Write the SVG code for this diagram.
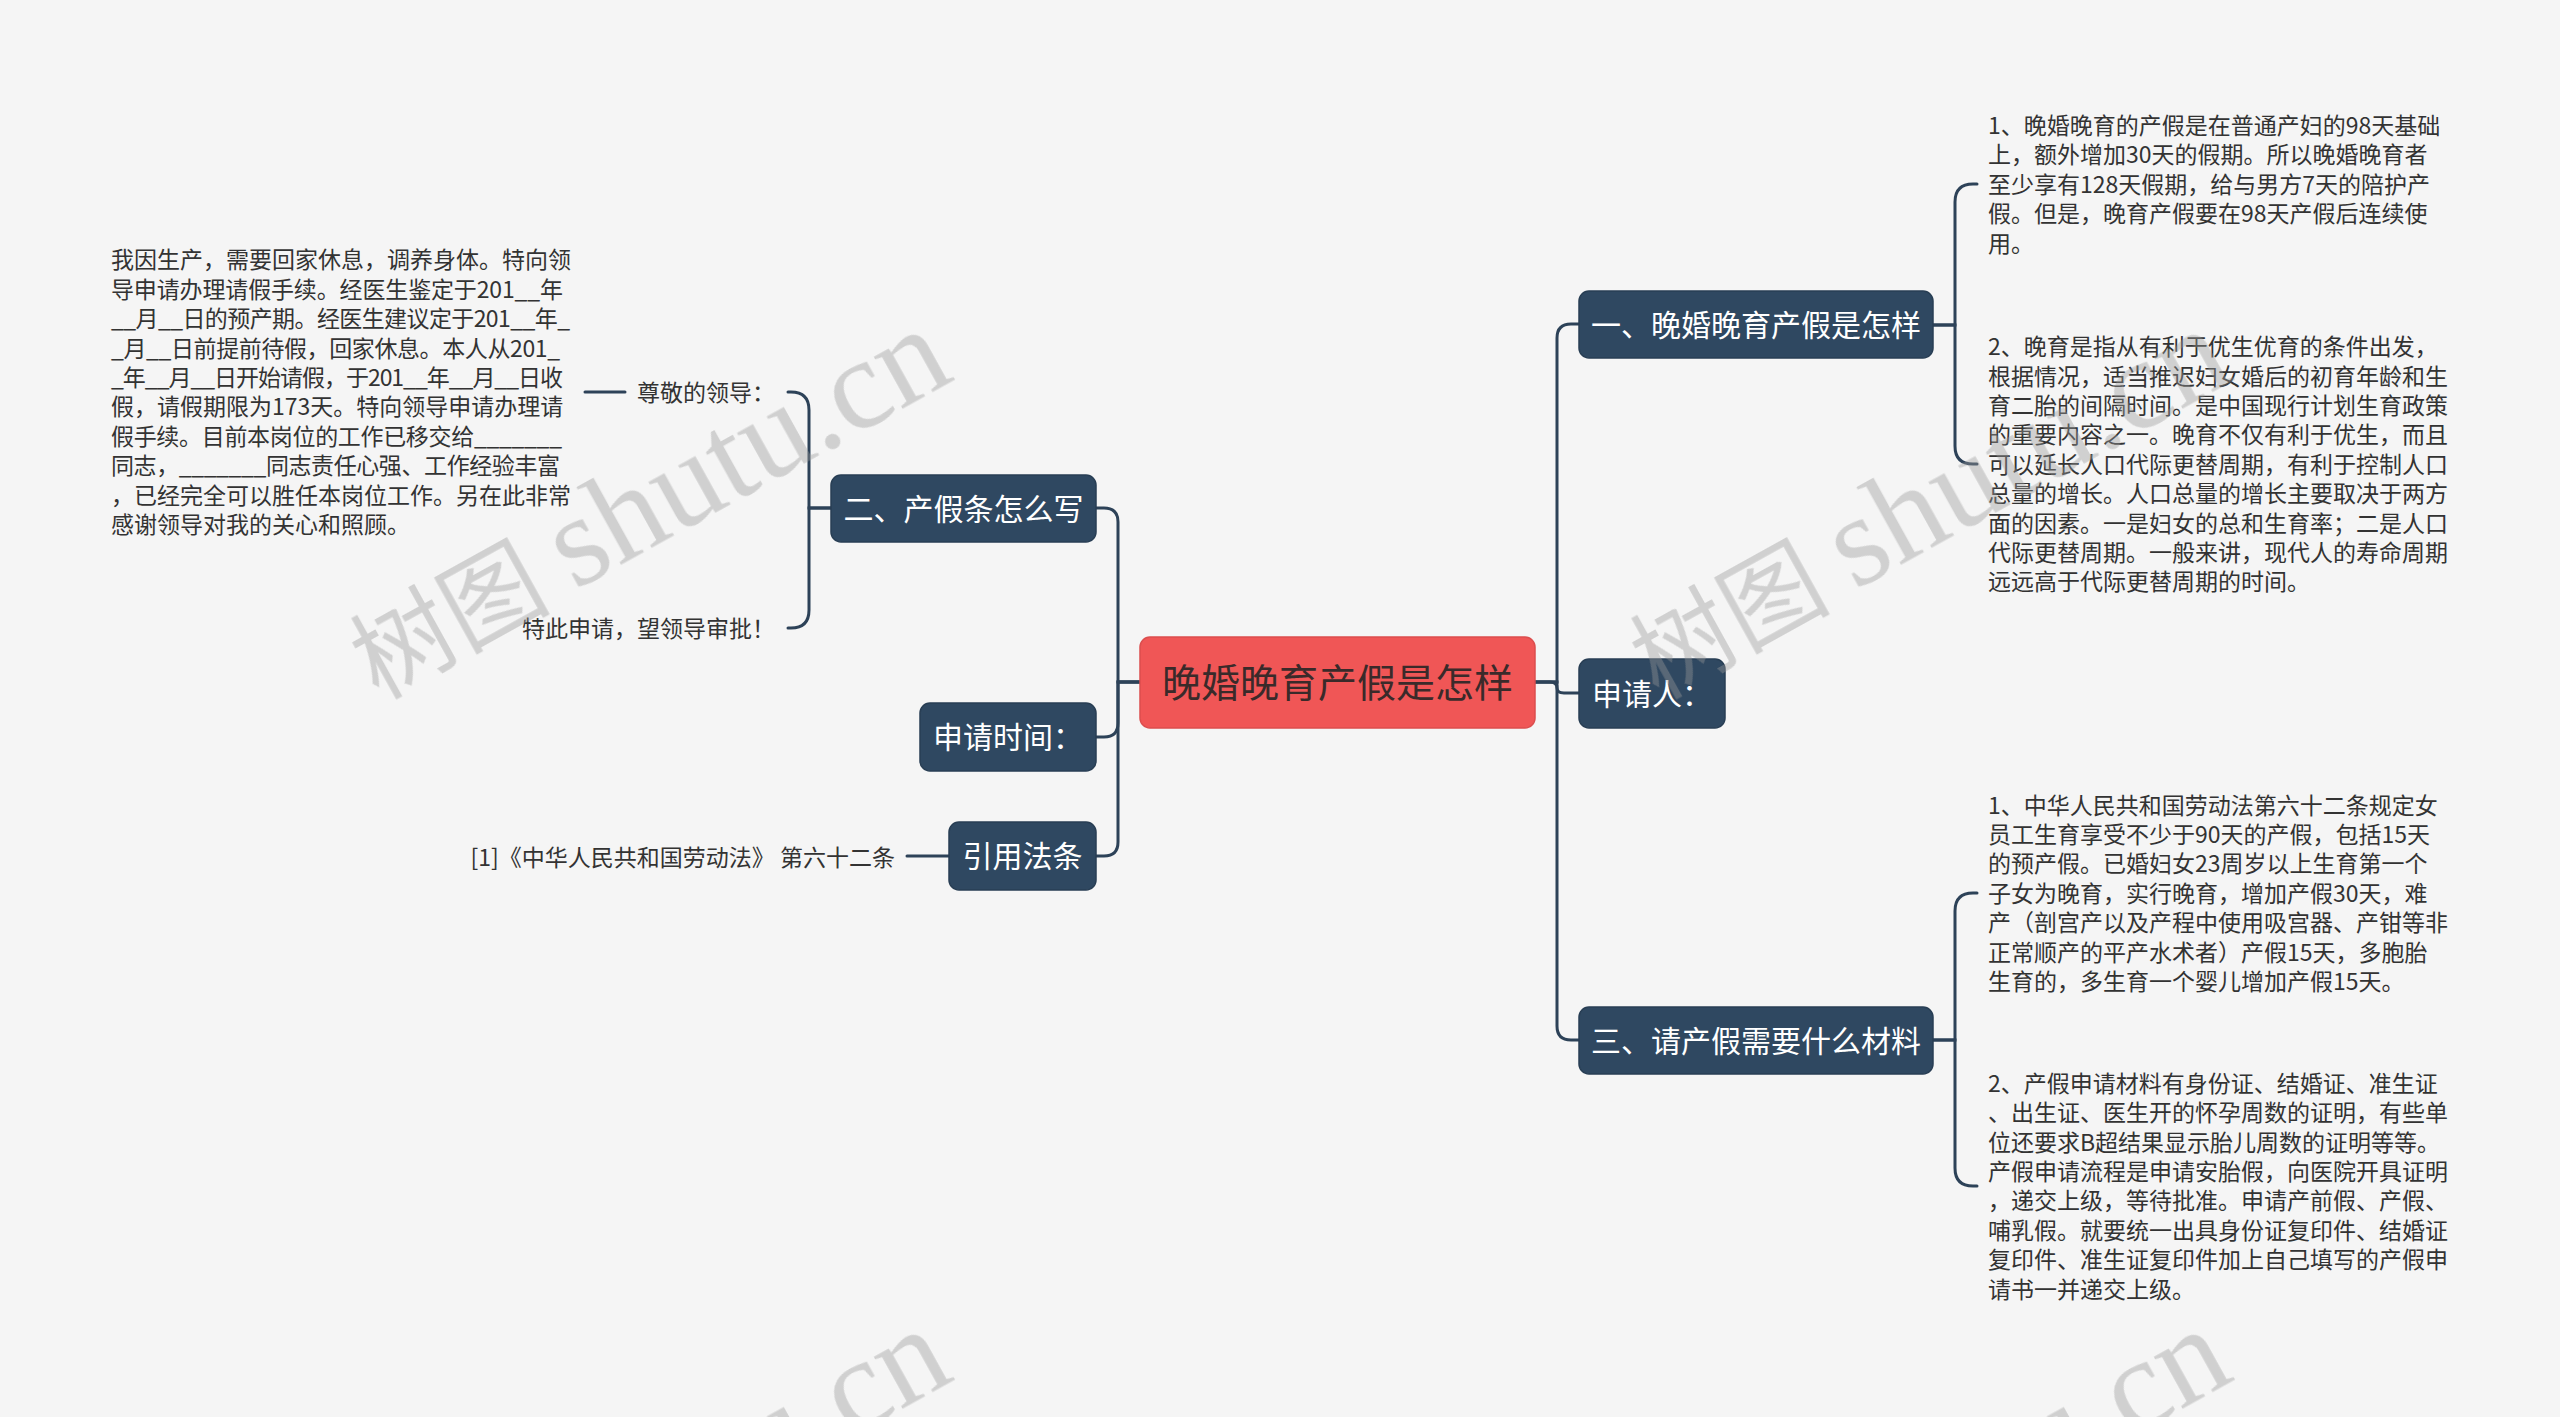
<svg xmlns="http://www.w3.org/2000/svg" width="2560" height="1417" viewBox="0 0 2560 1417">
<style>
.bg{fill:#f5f5f5}
.node rect{fill:#2f4861;stroke:#283e54;stroke-width:1.5}
.ntext{font-family:"Noto Sans CJK SC","Noto Sans",sans-serif;font-size:30px;fill:#ffffff;text-anchor:middle}
.root rect{fill:#f05656;stroke:#dc4e4e;stroke-width:1.5}
.rtext{font-family:"Noto Sans CJK SC","Noto Sans",sans-serif;font-size:39px;fill:#3a2a2a;text-anchor:middle}
.leaf{font-family:"Noto Sans CJK SC","Noto Sans",sans-serif;font-size:23px;fill:#333333}
.conn path{fill:none;stroke:#2d4258;stroke-width:3;stroke-linecap:round}
.wm{font-family:"Liberation Serif","Noto Sans CJK SC",serif;font-size:100px;fill:#9a9a9a;opacity:0.4}
</style>
<rect class="bg" x="0" y="0" width="2560" height="1417"/>

<g id="connectors" class="conn">
<path d="M1535,682 H1557 V338 Q1557,324 1571,324 H1579"/>
<path d="M1535,682 H1550 Q1557,682 1557,688 Q1557,693 1564,693 H1579"/>
<path d="M1535,682 H1557 V1026 Q1557,1040 1571,1040 H1579"/>
<path d="M1140,682 H1118 V522 Q1118,508 1104,508 H1096"/>
<path d="M1140,682 H1118 V723 Q1118,737 1104,737 H1096"/>
<path d="M1140,682 H1118 V842 Q1118,856 1104,856 H1096"/>
<path d="M1933,325 H1955 V202 Q1955,184 1973,184 H1977"/>
<path d="M1933,325 H1955 V446 Q1955,464 1973,464 H1977"/>
<path d="M1933,1040 H1955 V911 Q1955,893 1973,893 H1977"/>
<path d="M1933,1040 H1955 V1168 Q1955,1186 1973,1186 H1977"/>
<path d="M831,508 H809 V410 Q809,392 791,392 H788"/>
<path d="M831,508 H809 V610 Q809,628 791,628 H788"/>
<path d="M625,392 H585"/>
<path d="M949,856 H907"/>
</g>

<g id="root" class="root">
<rect x="1140" y="637" width="395" height="91" rx="10"/>
<text class="rtext" x="1337.5" y="696.8">晚婚晚育产假是怎样</text>
</g>

<g id="n1" class="node">
<rect x="1579" y="291" width="354" height="67" rx="10"/>
<text class="ntext" x="1756" y="335.9">一、晚婚晚育产假是怎样</text>
</g>
<g id="n-applicant" class="node">
<rect x="1579" y="659" width="146" height="69" rx="10"/>
<text class="ntext" x="1652" y="704.9">申请人：</text>
</g>
<g id="n3" class="node">
<rect x="1579" y="1007" width="354" height="67" rx="10"/>
<text class="ntext" x="1756" y="1051.9">三、请产假需要什么材料</text>
</g>
<g id="n2" class="node">
<rect x="831" y="475" width="265" height="67" rx="10"/>
<text class="ntext" x="963.5" y="519.9">二、产假条怎么写</text>
</g>
<g id="n-time" class="node">
<rect x="920" y="703" width="176" height="68" rx="10"/>
<text class="ntext" x="1008" y="748.4">申请时间：</text>
</g>
<g id="n-law" class="node">
<rect x="949" y="822" width="147" height="68" rx="10"/>
<text class="ntext" x="1022.5" y="867.4">引用法条</text>
</g>

<g id="leaf-1-1">
<text class="leaf">
<tspan x="1988" y="134">1、晚婚晚育的产假是在普通产妇的98天基础</tspan>
<tspan x="1988" y="163.4">上，额外增加30天的假期。所以晚婚晚育者</tspan>
<tspan x="1988" y="192.8">至少享有128天假期，给与男方7天的陪护产</tspan>
<tspan x="1988" y="222.2">假。但是，晚育产假要在98天产假后连续使</tspan>
<tspan x="1988" y="251.6">用。</tspan>
</text>
</g>
<g id="leaf-1-2">
<text class="leaf">
<tspan x="1988" y="355.1">2、晚育是指从有利于优生优育的条件出发，</tspan>
<tspan x="1988" y="384.5">根据情况，适当推迟妇女婚后的初育年龄和生</tspan>
<tspan x="1988" y="413.9">育二胎的间隔时间。是中国现行计划生育政策</tspan>
<tspan x="1988" y="443.3">的重要内容之一。晚育不仅有利于优生，而且</tspan>
<tspan x="1988" y="472.7">可以延长人口代际更替周期，有利于控制人口</tspan>
<tspan x="1988" y="502.1">总量的增长。人口总量的增长主要取决于两方</tspan>
<tspan x="1988" y="531.5">面的因素。一是妇女的总和生育率；二是人口</tspan>
<tspan x="1988" y="560.9">代际更替周期。一般来讲，现代人的寿命周期</tspan>
<tspan x="1988" y="590.3">远远高于代际更替周期的时间。</tspan>
</text>
</g>
<g id="leaf-3-1">
<text class="leaf">
<tspan x="1988" y="813.5">1、中华人民共和国劳动法第六十二条规定女</tspan>
<tspan x="1988" y="842.9">员工生育享受不少于90天的产假，包括15天</tspan>
<tspan x="1988" y="872.3">的预产假。已婚妇女23周岁以上生育第一个</tspan>
<tspan x="1988" y="901.7">子女为晚育，实行晚育，增加产假30天，难</tspan>
<tspan x="1988" y="931.1">产（剖宫产以及产程中使用吸宫器、产钳等非</tspan>
<tspan x="1988" y="960.5">正常顺产的平产水术者）产假15天，多胞胎</tspan>
<tspan x="1988" y="989.9">生育的，多生育一个婴儿增加产假15天。</tspan>
</text>
</g>
<g id="leaf-3-2">
<text class="leaf">
<tspan x="1988" y="1091.8">2、产假申请材料有身份证、结婚证、准生证</tspan>
<tspan x="1988" y="1121.2">、出生证、医生开的怀孕周数的证明，有些单</tspan>
<tspan x="1988" y="1150.6">位还要求B超结果显示胎儿周数的证明等等。</tspan>
<tspan x="1988" y="1180">产假申请流程是申请安胎假，向医院开具证明</tspan>
<tspan x="1988" y="1209.4">，递交上级，等待批准。申请产前假、产假、</tspan>
<tspan x="1988" y="1238.8">哺乳假。就要统一出具身份证复印件、结婚证</tspan>
<tspan x="1988" y="1268.2">复印件、准生证复印件加上自己填写的产假申</tspan>
<tspan x="1988" y="1297.6">请书一并递交上级。</tspan>
</text>
</g>

<g id="leaf-2-1">
<text class="leaf" x="775" y="400.7" text-anchor="end">尊敬的领导：</text>
</g>
<g id="leaf-2-1-1">
<text class="leaf" x="111" y="268.4">我因生产，需要回家休息，调养身体。特向领</text>
<text class="leaf" x="111" y="297.8" textLength="452" lengthAdjust="spacing">导申请办理请假手续。经医生鉴定于201__年</text>
<text class="leaf" x="111" y="327.2" textLength="459" lengthAdjust="spacing">__月__日的预产期。经医生建议定于201__年_</text>
<text class="leaf" x="111" y="356.6" textLength="449" lengthAdjust="spacing">_月__日前提前待假，回家休息。本人从201_</text>
<text class="leaf" x="111" y="386" textLength="452" lengthAdjust="spacing">_年__月__日开始请假，于201__年__月__日收</text>
<text class="leaf" x="111" y="415.4">假，请假期限为173天。特向领导申请办理请</text>
<text class="leaf" x="111" y="444.8" textLength="451" lengthAdjust="spacing">假手续。目前本岗位的工作已移交给_______</text>
<text class="leaf" x="111" y="474.2" textLength="449" lengthAdjust="spacing">同志，_______同志责任心强、工作经验丰富</text>
<text class="leaf" x="111" y="503.6">，已经完全可以胜任本岗位工作。另在此非常</text>
<text class="leaf" x="111" y="533">感谢领导对我的关心和照顾。</text>
</g>
<g id="leaf-2-2">
<text class="leaf" x="775" y="636.7" text-anchor="end">特此申请，望领导审批！</text>
</g>
<g id="leaf-law">
<text class="leaf" x="895" y="865.7" text-anchor="end">[1]《中华人民共和国劳动法》 第六十二条</text>
</g>

<g id="watermarks" class="wm">
<text transform="translate(378,700) rotate(-29)">树图 <tspan font-size="130">shutu.cn</tspan></text>
<text transform="translate(1658,700) rotate(-29)">树图 <tspan font-size="130">shutu.cn</tspan></text>
<text transform="translate(378,1700) rotate(-29)">树图 <tspan font-size="130">shutu.cn</tspan></text>
<text transform="translate(1658,1700) rotate(-29)">树图 <tspan font-size="130">shutu.cn</tspan></text>
</g>
</svg>
